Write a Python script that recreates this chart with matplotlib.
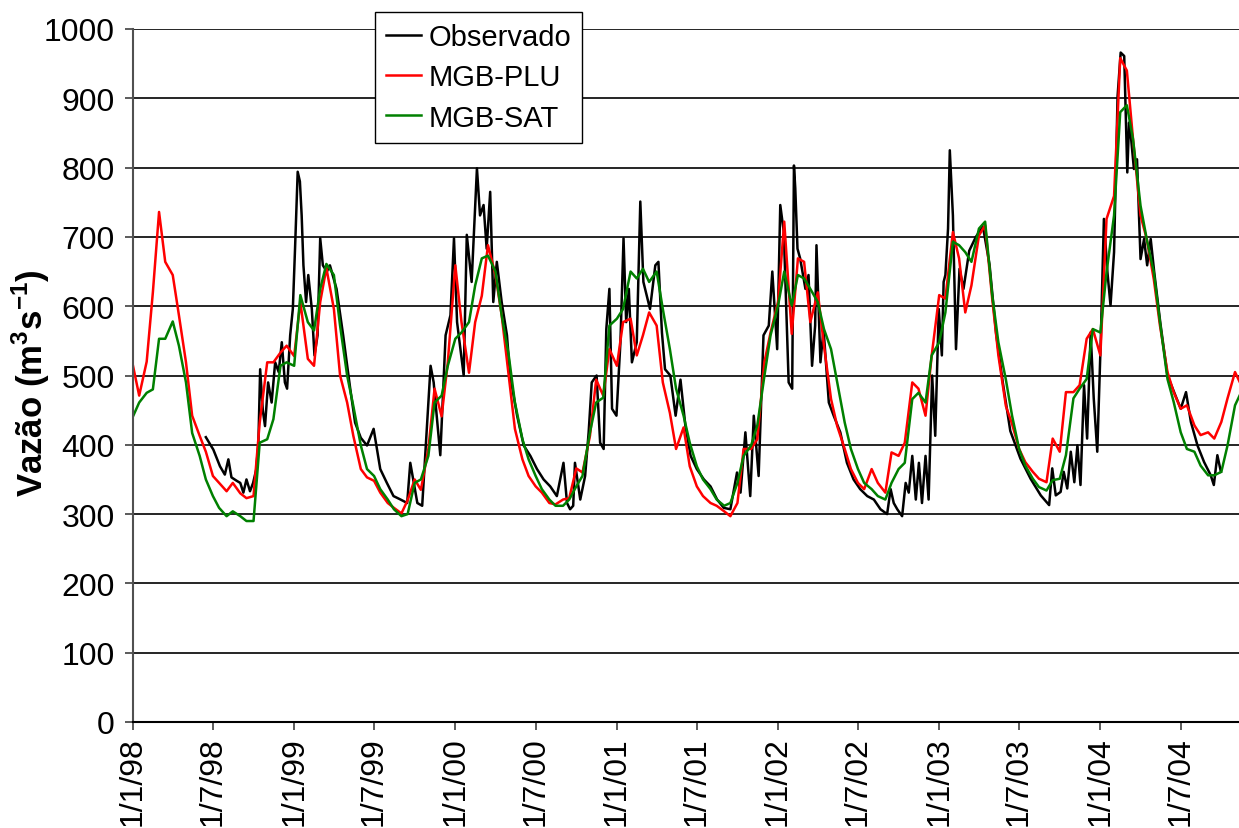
import pandas as pd
import matplotlib
matplotlib.use("Agg")
import matplotlib.pyplot as plt

plt.rcParams["font.family"] = ["Liberation Sans", "DejaVu Sans"]
plt.rcParams["mathtext.fontset"] = "custom"
plt.rcParams["mathtext.bf"] = "Liberation Sans:bold"
plt.rcParams["mathtext.rm"] = "Liberation Sans"

obs_dates = [
	"1998-06-15", "1998-07-02", "1998-07-17", "1998-07-28", "1998-08-05", "1998-08-12", "1998-08-24",
	"1998-09-01", "1998-09-08", "1998-09-15", "1998-09-23", "1998-09-30", "1998-10-07", "1998-10-12",
	"1998-10-16", "1998-10-22", "1998-10-27", "1998-11-03", "1998-11-11", "1998-11-19", "1998-11-27",
	"1998-12-04", "1998-12-11", "1998-12-16", "1998-12-23", "1998-12-29",
	"1999-01-03", "1999-01-09", "1999-01-14", "1999-01-18", "1999-01-22", "1999-01-28", "1999-02-02",
	"1999-02-10", "1999-02-16", "1999-02-23", "1999-03-01", "1999-03-07", "1999-03-16", "1999-03-23",
	"1999-04-07", "1999-04-22", "1999-05-08", "1999-05-19", "1999-06-01", "1999-06-15", "1999-06-30",
	"1999-07-15", "1999-07-30", "1999-08-14", "1999-08-30", "1999-09-14", "1999-09-21", "1999-10-07",
	"1999-10-18", "1999-11-06", "1999-11-13", "1999-11-28", "1999-12-10", "1999-12-21", "1999-12-29",
	"2000-01-05", "2000-01-20", "2000-01-27", "2000-02-07", "2000-02-19", "2000-02-26", "2000-03-05",
	"2000-03-12", "2000-03-20", "2000-03-27", "2000-04-04", "2000-04-15", "2000-04-27", "2000-05-04",
	"2000-05-20", "2000-06-04", "2000-06-19", "2000-07-04", "2000-07-19", "2000-08-03", "2000-08-18",
	"2000-09-02", "2000-09-10", "2000-09-17", "2000-09-24", "2000-09-28", "2000-10-10", "2000-10-21",
	"2000-10-29", "2000-11-05", "2000-11-16", "2000-11-24", "2000-12-02", "2000-12-08", "2000-12-15",
	"2000-12-21", "2000-12-31",
	"2001-01-09", "2001-01-16", "2001-01-22", "2001-01-28", "2001-02-04", "2001-02-15", "2001-02-23",
	"2001-03-02", "2001-03-17", "2001-03-29", "2001-04-05", "2001-04-13", "2001-04-20", "2001-05-02",
	"2001-05-14", "2001-05-25", "2001-06-05", "2001-06-17", "2001-07-01", "2001-07-17", "2001-08-01",
	"2001-08-16", "2001-08-31", "2001-09-15", "2001-09-30", "2001-10-08", "2001-10-19", "2001-10-30",
	"2001-11-07", "2001-11-18", "2001-11-29", "2001-12-11", "2001-12-19", "2001-12-30",
	"2002-01-06", "2002-01-14", "2002-01-25", "2002-02-02", "2002-02-06", "2002-02-09", "2002-02-14",
	"2002-02-20", "2002-03-04", "2002-03-11", "2002-03-19", "2002-03-26", "2002-03-29", "2002-04-07",
	"2002-04-14", "2002-04-26", "2002-05-07", "2002-05-22", "2002-06-06", "2002-06-21", "2002-07-06",
	"2002-07-22", "2002-08-06", "2002-08-21", "2002-09-05", "2002-09-13", "2002-09-20", "2002-09-28",
	"2002-10-09", "2002-10-17", "2002-10-24", "2002-11-01", "2002-11-09", "2002-11-16", "2002-11-23",
	"2002-12-01", "2002-12-08", "2002-12-16", "2002-12-23", "2002-12-31",
	"2003-01-07", "2003-01-11", "2003-01-15", "2003-01-21", "2003-01-25", "2003-02-01", "2003-02-08",
	"2003-02-16", "2003-02-25", "2003-03-10", "2003-03-25", "2003-04-10", "2003-04-25", "2003-05-10",
	"2003-05-25", "2003-06-11", "2003-07-04", "2003-07-27", "2003-08-19", "2003-09-07", "2003-09-14",
	"2003-09-22", "2003-10-03", "2003-10-10", "2003-10-18", "2003-10-26", "2003-11-03", "2003-11-10",
	"2003-11-17", "2003-11-25", "2003-12-02", "2003-12-10", "2003-12-17", "2003-12-25",
	"2004-01-02", "2004-01-09", "2004-01-17", "2004-01-24", "2004-02-01", "2004-02-09", "2004-02-16",
	"2004-02-24", "2004-03-02", "2004-03-06", "2004-03-10", "2004-03-17", "2004-03-24", "2004-04-01",
	"2004-04-09", "2004-04-16", "2004-04-24", "2004-05-02", "2004-05-16", "2004-06-01", "2004-06-16",
	"2004-07-01", "2004-07-13", "2004-07-24", "2004-08-08", "2004-08-23", "2004-09-07", "2004-09-14",
	"2004-09-22", "2004-09-30",
]
obs_values = [
	411, 393, 369, 357, 379, 353, 348,
	345, 331, 350, 333, 345, 364, 403,
	509, 450, 427, 490, 461, 519, 505,
	548, 490, 481, 558, 596,
	683, 794, 780, 731, 659, 606, 645,
	596, 529, 558, 698, 659, 650, 659,
	625, 558, 481, 432, 410, 399, 423,
	365, 345, 326, 321, 316, 374, 316,
	312, 514, 490, 385, 558, 587, 698,
	577, 500, 703, 635, 799, 731, 746,
	683, 765, 606, 664, 606, 558, 500,
	442, 399, 384, 365, 350, 340, 326,
	374, 316, 307, 312, 374, 321, 355,
	418, 490, 500, 403, 394, 567, 625,
	452, 442,
	548, 698, 577, 625, 519, 548, 751,
	635, 596, 659, 664, 562, 509, 500,
	442, 494, 428, 384, 365, 350, 340,
	321, 309, 307, 360, 331, 418, 326,
	442, 355, 558, 572, 650, 538,
	746, 707, 490, 481, 803, 770, 683,
	669, 625, 645, 514, 572, 688, 519,
	567, 461, 442, 418, 374, 350, 336,
	326, 321, 307, 300, 336, 316, 307,
	297, 345, 331, 384, 321, 374, 316,
	384, 321, 500, 413, 596,
	529, 635, 645, 712, 825, 731, 538,
	654, 625, 680, 700, 715, 660, 560,
	490, 420, 380, 351, 327, 313, 366,
	327, 332, 361, 337, 390, 346, 399,
	342, 486, 409, 562, 467, 390,
	553, 726, 649, 601, 678, 903, 966,
	961, 793, 865, 846, 798, 812, 668,
	697, 659, 697, 649, 575, 500, 476,
	452, 476, 433, 399, 375, 356, 342,
	385, 361,
]

# simulated series, read on the 1st and 15th of each month (Jan 1998 - Nov 2004)
sim_start = "1998-01-01"
sim_end = "2004-11-15"
plu_values = [
	514, 471, 520, 620, 736, 664, 645, 587, 519, 442, 413, 390,
	355, 345, 333, 345, 330, 323, 326, 432, 519, 519, 533, 543,
	528, 606, 524, 514, 606, 655, 596, 500, 461, 413, 365, 353,
	348, 331, 316, 309, 301, 320, 350, 335, 394, 481, 441, 519,
	659, 577, 504, 577, 615, 688, 645, 587, 500, 423, 379, 355,
	340, 331, 316, 314, 321, 323, 366, 360, 413, 494, 471, 538,
	514, 577, 582, 529, 558, 591, 572, 490, 446, 394, 425, 369,
	340, 326, 316, 312, 304, 297, 316, 394, 394, 408, 519, 562,
	606, 722, 560, 669, 664, 577, 620, 543, 466, 427, 394, 365,
	345, 336, 365, 345, 331, 389, 384, 403, 490, 481, 442, 529,
	616, 611, 707, 669, 591, 630, 702, 717, 611, 529, 456, 430,
	394, 375, 361, 351, 346, 409, 390, 476, 476, 486, 553, 567,
	529, 726, 759, 958, 940, 841, 731, 697, 639, 572, 505, 476,
	452, 457, 428, 414, 418, 409, 433, 467, 505, 486,
]
sat_values = [
	441, 461, 475, 480, 553, 553, 578, 543, 490, 417, 384, 350,
	326, 309, 297, 304, 297, 290, 290, 403, 408, 437, 514, 519,
	514, 616, 577, 565, 625, 661, 645, 572, 500, 456, 399, 365,
	355, 336, 321, 307, 297, 300, 345, 350, 384, 461, 471, 514,
	553, 562, 577, 630, 669, 673, 650, 587, 529, 461, 408, 379,
	355, 336, 321, 312, 312, 321, 340, 355, 418, 461, 468, 572,
	582, 596, 650, 640, 654, 635, 650, 596, 538, 481, 442, 403,
	369, 350, 336, 321, 312, 316, 345, 384, 399, 428, 499, 558,
	601, 650, 601, 645, 640, 625, 606, 567, 538, 490, 432, 394,
	365, 345, 336, 326, 321, 345, 365, 374, 466, 475, 461, 529,
	548, 591, 693, 688, 678, 664, 712, 722, 616, 548, 494, 442,
	394, 370, 351, 339, 334, 349, 351, 385, 467, 481, 495, 567,
	562, 649, 731, 880, 890, 841, 745, 697, 649, 577, 495, 462,
	418, 394, 390, 370, 356, 356, 361, 399, 457, 476,
]

tick_labels = ["1/1/98", "1/7/98", "1/1/99", "1/7/99", "1/1/00", "1/7/00", "1/1/01", "1/7/01",
			   "1/1/02", "1/7/02", "1/1/03", "1/7/03", "1/1/04", "1/7/04"]
y_ticks = [0, 100, 200, 300, 400, 500, 600, 700, 800, 900, 1000]

obs_x = pd.to_datetime(obs_dates)
sim_x = pd.date_range(sim_start, sim_end, freq="SMS")
assert len(obs_x) == len(obs_values)
assert len(sim_x) == len(plu_values) == len(sat_values)
tick_x = pd.to_datetime(tick_labels, format="%d/%m/%y")

fig = plt.figure(figsize=(12.39, 8.29), dpi=100)
ax = fig.add_axes([133 / 1239, 106 / 829, 1106 / 1239, 693 / 829])

ax.plot(obs_x, obs_values, color="black", lw=1.8, label="Observado")
ax.plot(sim_x, plu_values, color="#ff0000", lw=1.8, label="MGB-PLU")
ax.plot(sim_x, sat_values, color="#008000", lw=1.8, label="MGB-SAT")

ax.set_xlim(pd.Timestamp("1998-01-01"), pd.Timestamp("2004-11-10"))
ax.set_ylim(0, 1000)
ax.set_yticks(y_ticks)
ax.set_xticks(tick_x)
ax.set_xticklabels(tick_labels, rotation=90, va="top", ha="center")
ax.tick_params(axis="both", labelsize=23, length=6, width=1.2, color="#404040")
ax.tick_params(axis="y", pad=7)
ax.tick_params(axis="x", pad=4)

# horizontal grid only, no frame top/right
for v in y_ticks[1:]:
	ax.axhline(v, color="black", lw=1.2, zorder=0.5)
for side in ("top", "right"):
	ax.spines[side].set_visible(False)
ax.spines["left"].set_color("#505050")
ax.spines["left"].set_linewidth(1.5)
ax.spines["bottom"].set_color("black")
ax.spines["bottom"].set_linewidth(1.5)

ax.set_ylabel(r"Vazão (m$^{\mathbf{3}}$s$^{\mathbf{-1}}$)", fontsize=25, fontweight="bold")
ax.yaxis.set_label_coords((52 - 133) / 1106, 0.49)

leg = ax.legend(loc="upper left", bbox_to_anchor=(375 / 1239, 1 - 13 / 829),
				bbox_transform=fig.transFigure, borderaxespad=0, fontsize=21,
				handlelength=1.2, handletextpad=0.25, borderpad=0.38, labelspacing=0.42,
				fancybox=False, framealpha=1, edgecolor="black")
leg.get_frame().set_linewidth(1.0)

fig.savefig("out.png", dpi=100)
